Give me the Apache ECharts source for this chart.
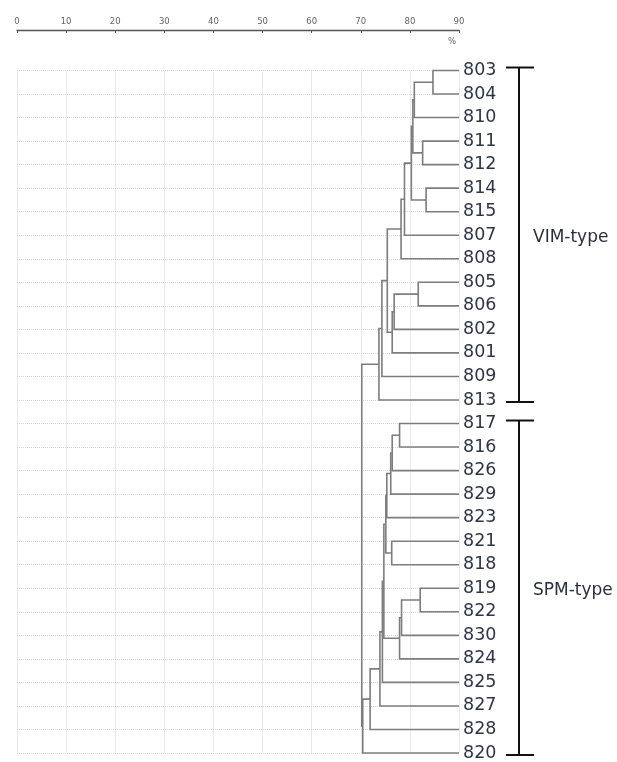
<!DOCTYPE html>
<html>
<head>
<meta charset="utf-8">
<script src="https://cdn.jsdelivr.net/npm/echarts@6/dist/echarts.min.js"></script>
<style>
html,body{margin:0;padding:0;background:#fff;}
#chart{width:617px;height:762px;}
</style>
</head>
<body>
<div id="chart"></div>
<script>
// Leaf order (top to bottom)
const leaves = ['803','804','810','811','812','814','815','807','808','805','806','802','801','809','813',
                '817','816','826','829','823','821','818','819','822','830','824','825','827','828','820'];

// Merges: [node name, child A, child B, similarity %]
const merges = [
  ['A1','803','804',84.7],
  ['A2','A1','810',80.9],
  ['A3','811','812',82.6],
  ['A4','A2','A3',80.6],
  ['A5','814','815',83.3],
  ['A6','A4','A5',80.3],
  ['A7','A6','807',78.9],
  ['A8','A7','808',78.2],
  ['B1','805','806',81.7],
  ['B2','B1','802',76.8],
  ['B3','B2','801',76.4],
  ['V1','A8','B3',75.4],
  ['V2','V1','809',74.3],
  ['V3','V2','813',73.7],
  ['S1','817','816',77.9],
  ['S2','S1','826',76.4],
  ['S3','S2','829',76.1],
  ['S4','S3','823',75.3],
  ['S5','821','818',76.3],
  ['S6','S4','S5',75.1],
  ['T1','819','822',82.1],
  ['T2','T1','830',78.3],
  ['T3','T2','824',77.9],
  ['S7','S6','T3',74.7],
  ['S8','S7','825',74.4],
  ['S9','S8','827',73.9],
  ['S10','S9','828',71.9],
  ['S11','S10','820',70.4],
  ['R','V3','S11',70.2]
];

// Groups (bracket labels)
const groups = [
  ['VIM-type','803','813'],
  ['SPM-type','817','820']
];

// Axis tick values
const xTicks = [0,10,20,30,40,50,60,70,80,90];
const leafHeight = 90;

// Build node positions
const pos = {};
leaves.forEach((l,i)=>{ pos[l] = {y:i, h:leafHeight}; });
const linkData = merges.map(m=>{
  const a = pos[m[1]], b = pos[m[2]];
  const y = (a.y + b.y)/2;
  pos[m[0]] = {y:y, h:m[3]};
  return [a.h, a.y, m[3], b.y, b.h];
});
const groupData = groups.map(g=>[leaves.indexOf(g[1]), leaves.indexOf(g[2]), g[0]]);

const chart = echarts.init(document.getElementById('chart'), null, {renderer:'canvas'});
const gridTop = 70.5, rowH = 23.72;
const xMin = xTicks[0], xMax = xTicks[xTicks.length-1];
chart.setOption({
  animation:false,
  backgroundColor:'#fff',
  grid:[
    {left:17, top:gridTop, width:442, height:rowH*(leaves.length-1)},
    {left:17, top:29, width:442, height:1}
  ],
  xAxis:[
    {
      type:'value', min:xMin, max:xMax, interval:10, gridIndex:0,
      axisLine:{show:false}, axisTick:{show:false}, axisLabel:{show:false},
      splitLine:{show:true, lineStyle:{color:'#d6d6d6', type:'dotted', width:1}}
    },
    {
      type:'value', min:xMin, max:xMax, interval:10, gridIndex:1, position:'top',
      axisLine:{show:true, lineStyle:{color:'#555', width:1.3}},
      axisTick:{show:true, inside:true, length:3, lineStyle:{color:'#555'}},
      axisLabel:{fontSize:8.5, color:'#666', margin:3, fontFamily:'DejaVu Sans'},
      splitLine:{show:false}
    }
  ],
  yAxis:[
    {
      type:'value', min:0, max:leaves.length-1, interval:1, inverse:true, position:'right', gridIndex:0,
      axisLine:{show:false}, axisTick:{show:false},
      axisLabel:{show:true, margin:4, fontSize:17.5, color:'#2e3447', fontFamily:'DejaVu Sans',
        formatter:(v)=>leaves[v] || ''},
      splitLine:{show:true, lineStyle:{color:'#d6d6d6', type:'dotted', width:1}}
    },
    {
      type:'value', gridIndex:1, show:false, min:0, max:1, splitLine:{show:false}
    }
  ],
  graphic:[{type:'text', left:448, top:37, style:{text:'%', fontSize:8.5, fill:'#666', fontFamily:'DejaVu Sans'}}],
  series:[
    {
      type:'custom', clip:false, data:linkData, xAxisIndex:0, yAxisIndex:0,
      encode:{x:[0,2,4], y:[1,3]},
      renderItem:(params, api)=>{
        const p1 = api.coord([api.value(0), api.value(1)]);
        const p2 = api.coord([api.value(2), api.value(1)]);
        const p3 = api.coord([api.value(2), api.value(3)]);
        const p4 = api.coord([api.value(4), api.value(3)]);
        return {type:'polyline', shape:{points:[p1,p2,p3,p4]},
          style:{stroke:'#7d7d7d', lineWidth:1.6, fill:null}};
      }
    },
    {
      type:'custom', clip:false, data:groupData, xAxisIndex:0, yAxisIndex:0,
      encode:{y:[0,1]},
      renderItem:(params, api)=>{
        const t = api.coord([leafHeight, api.value(0)]);
        const b = api.coord([leafHeight, api.value(1)]);
        const x = t[0] + 60;
        const y1 = t[1] - 3, y2 = b[1] + 2;
        const name = groupData[params.dataIndex][2];
        return {type:'group', children:[
          {type:'line', shape:{x1:x, y1:y1, x2:x, y2:y2}, style:{stroke:'#111', lineWidth:2}},
          {type:'line', shape:{x1:x-13, y1:y1, x2:x+15, y2:y1}, style:{stroke:'#111', lineWidth:2}},
          {type:'line', shape:{x1:x-13, y1:y2, x2:x+15, y2:y2}, style:{stroke:'#111', lineWidth:2}},
          {type:'text', x:x+14, y:(y1+y2)/2 + 3, style:{text:name, fontSize:17, fill:'#2a2f3d',
            fontFamily:'DejaVu Sans', textAlign:'left', textVerticalAlign:'middle'}}
        ]};
      }
    }
  ]
});
</script>
</body>
</html>
